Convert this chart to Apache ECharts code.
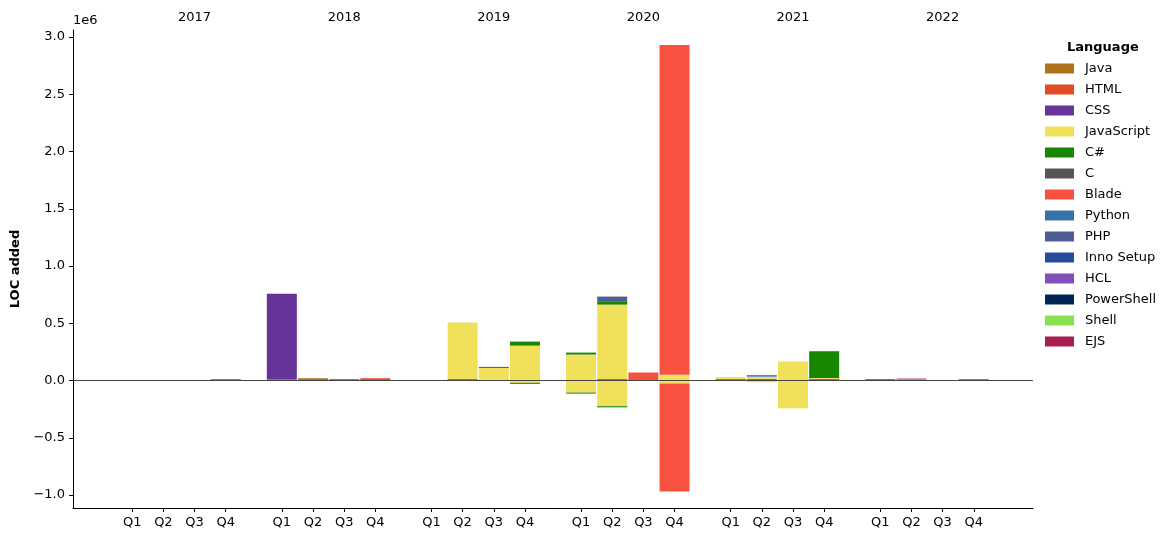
<!DOCTYPE html>
<html>
<head>
<meta charset="utf-8">
<script src="https://cdn.jsdelivr.net/npm/echarts@6/dist/echarts.min.js"></script>
<style>html,body{margin:0;padding:0;background:#fff;}#c{width:1175px;height:542px;}</style>
</head>
<body>
<div id="c"></div>
<script>
// ---- data ----
const years = ['2017', '2018', '2019', '2020', '2021', '2022'];
const quarterNames = ['Q1', 'Q2', 'Q3', 'Q4'];
const languages = ['Java', 'HTML', 'CSS', 'JavaScript', 'C#', 'C', 'Blade', 'Python', 'PHP', 'Inno Setup', 'HCL', 'PowerShell', 'Shell', 'EJS'];
const langColors = ['#b07219', '#e34c26', '#663399', '#f1e05a', '#178600', '#555555', '#f7523f', '#3572a5', '#4f5d95', '#264b99', '#844fba', '#012456', '#89e051', '#a91e50'];
const yTicks = [-1000000, -500000, 0, 500000, 1000000, 1500000, 2000000, 2500000, 3000000];

// quarters: 2017Q1..2022Q4 (24 values), LOC added (positive) / removed (negative)
const javaAdded       = [0,0,0,13000, 13000,20000,13000,0, 0,0,0,0, 0,0,0,0, 0,0,0,0, 0,0,0,0];
const htmlAdded       = [0,0,0,0, 0,0,0,20000, 0,13000,0,0, 0,13000,0,0, 13000,16000,0,16000, 13000,0,0,0];
const cssAdded        = [0,0,0,0, 745000,0,0,0, 0,0,0,0, 0,0,0,0, 0,0,0,0, 0,0,0,0];
const jsAdded         = [0,0,0,0, 0,0,0,0, 0,493000,110000,305000, 227000,650000,0,50000, 18000,18000,167000,6000, 0,9000,0,0];
const jsRemoved       = [0,0,0,0, 0,0,0,0, 0,0,0,-20000, -105000,-224000,0,-26000, 0,-15000,-243000,0, 0,0,0,0];
const csharpAdded     = [0,0,0,0, 0,0,0,0, 0,0,9000,35000, 17000,30000,0,0, 0,0,0,234000, 0,0,0,0];
const csharpRemoved   = [0,0,0,0, 0,0,0,0, 0,0,0,-9000, -9000,-10000,0,0, 0,0,0,0, 0,0,0,0];
const cAdded          = [0,0,0,0, 0,0,0,0, 0,0,0,0, 0,0,0,0, 0,0,0,0, 0,0,0,0];
const bladeAdded      = [0,0,0,0, 0,0,0,0, 0,0,0,0, 0,0,70000,2880000, 0,0,0,0, 0,0,0,0];
const bladeRemoved    = [0,0,0,0, 0,0,0,0, 0,0,0,0, 0,0,0,-942000, 0,0,0,0, 0,0,0,0];
const pythonAdded     = [0,0,0,0, 0,0,0,0, 0,0,0,0, 0,0,0,0, 0,13000,0,0, 0,0,0,0];
const phpAdded        = [0,0,0,0, 0,0,0,0, 0,0,0,0, 0,40000,0,0, 0,0,0,0, 0,0,0,0];
const innoAdded       = [0,0,0,0, 0,0,0,0, 0,0,0,0, 0,0,0,0, 0,0,0,0, 0,0,0,0];
const hclAdded        = [0,0,0,0, 0,0,0,0, 0,0,0,0, 0,0,0,0, 0,0,0,0, 0,0,0,12000];
const powershellAdded = [0,0,0,0, 0,0,0,0, 0,0,0,0, 0,0,0,0, 0,0,0,0, 0,0,0,0];
const shellAdded      = [0,0,0,0, 0,0,0,0, 0,0,0,0, 0,0,0,0, 0,0,0,0, 0,0,0,0];
const ejsAdded        = [0,0,0,0, 0,0,0,0, 0,0,0,0, 0,0,0,0, 0,0,0,0, 0,8000,0,0];

const addedByLang = [javaAdded, htmlAdded, cssAdded, jsAdded, csharpAdded, cAdded, bladeAdded, pythonAdded, phpAdded, innoAdded, hclAdded, powershellAdded, shellAdded, ejsAdded];
const removedByLang = { 'JavaScript': jsRemoved, 'C#': csharpRemoved, 'Blade': bladeRemoved };

// ---- fine category grid: each quarter slot spans 5 sub-bands, a year 24 ----
const NSUB = 154, FIRST = 9, SLOT = 5, YEAR = 24;
const subCats = Array.from({ length: NSUB }, (_, i) => String(i));
const slotIdx = [];
const bottomLabel = {};
const topLabel = {};
years.forEach((y, yi) => {
  quarterNames.forEach((q, qi) => {
    const k = FIRST + yi * YEAR + qi * SLOT;
    slotIdx.push(k);
    bottomLabel[k] = q;
  });
  topLabel[FIRST + yi * YEAR + 2 * SLOT] = y;
});
function spread(vals) {
  const arr = new Array(NSUB).fill(null);
  vals.forEach((v, i) => { arr[slotIdx[i]] = v; });
  return arr;
}

const FONT = 'DejaVu Sans';
const series = [];
languages.forEach((lang, li) => {
  series.push({
    name: lang, type: 'bar', stack: 'loc', barWidth: 30,
    itemStyle: { color: langColors[li] },
    data: spread(addedByLang[li])
  });
  if (removedByLang[lang]) {
    series.push({
      name: lang, type: 'bar', stack: 'loc', barWidth: 30,
      itemStyle: { color: langColors[li] },
      data: spread(removedByLang[lang])
    });
  }
});
// zero line drawn over the bars
series.push({
  type: 'line', name: '_zero', silent: true, z: 20, symbol: 'none', data: [],
  markLine: {
    silent: true, symbol: 'none', label: { show: false },
    lineStyle: { color: '#444', width: 1.2, type: 'solid' },
    data: [{ yAxis: 0 }]
  }
});

const chart = echarts.init(document.getElementById('c'), null, { renderer: 'canvas' });
chart.setOption({
  animation: false,
  textStyle: { fontFamily: FONT },
  grid: { left: 73, right: 142, top: 30, bottom: 34, containLabel: false },
  title: {
    text: 'Language', left: 1062, top: 36,
    textStyle: { fontFamily: FONT, fontSize: 13, fontWeight: 'bold', color: '#000' }
  },
  legend: {
    data: languages, orient: 'vertical', left: 1040, top: 57,
    icon: 'rect', itemWidth: 29, itemHeight: 10, itemGap: 8,
    textStyle: { fontFamily: FONT, fontSize: 13, color: '#000', padding: [0, 0, 0, 6] }
  },
  graphic: [{
    type: 'text', left: 73, top: 14,
    style: { text: '1e6', font: '13px "DejaVu Sans"', fill: '#000' }
  }],
  xAxis: [{
    type: 'category', data: subCats, position: 'bottom', boundaryGap: true,
    splitLine: { show: false },
    axisLine: { show: true, onZero: false, lineStyle: { color: '#000', width: 1 } },
    axisTick: { show: true, length: 4, alignWithLabel: true, interval: i => bottomLabel[i] !== undefined, lineStyle: { color: '#000' } },
    axisLabel: { interval: i => bottomLabel[i] !== undefined, formatter: (v, i) => bottomLabel[i] || '', fontFamily: FONT, fontSize: 13, color: '#000', margin: 8 }
  }, {
    type: 'category', data: subCats, position: 'top', boundaryGap: true,
    splitLine: { show: false },
    axisLine: { show: false }, axisTick: { show: false },
    axisLabel: { interval: i => topLabel[i] !== undefined, formatter: (v, i) => topLabel[i] || '', fontFamily: FONT, fontSize: 13, color: '#000', margin: 6 }
  }],
  yAxis: {
    type: 'value', min: -1113000, max: 3061000,
    name: 'LOC added', nameLocation: 'middle', nameGap: 51, nameRotate: 90,
    nameTextStyle: { fontFamily: FONT, fontSize: 13, fontWeight: 'bold', color: '#000' },
    splitLine: { show: false },
    axisLine: { show: true, onZero: false, lineStyle: { color: '#000', width: 1 } },
    axisTick: { show: true, length: 4, customValues: yTicks, lineStyle: { color: '#000' } },
    axisLabel: { customValues: yTicks, formatter: v => (v / 1e6).toFixed(1).replace('-', '\u2212'), fontFamily: FONT, fontSize: 13, color: '#000', margin: 8 }
  },
  series: series
});
</script>
</body>
</html>
